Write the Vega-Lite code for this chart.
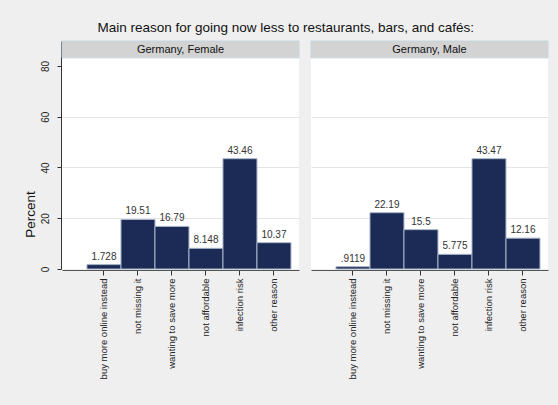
{
  "$schema": "https://vega.github.io/schema/vega-lite/v6.json",
  "background": "#efefef",
  "padding": {"left": 22, "top": 21, "right": 14, "bottom": 26},
  "title": {
    "text": "Main reason for going now less to restaurants, bars, and cafés:",
    "fontSize": 13.5,
    "font": "Liberation Sans",
    "fontWeight": "normal",
    "color": "#111111",
    "anchor": "middle",
    "offset": 6
  },
  "data": {
    "values": [
      {"panel": "Germany, Female", "reason": "buy more online instead", "percent": 1.728},
      {"panel": "Germany, Female", "reason": "not missing it", "percent": 19.51},
      {"panel": "Germany, Female", "reason": "wanting to save more", "percent": 16.79},
      {"panel": "Germany, Female", "reason": "not affordable", "percent": 8.148},
      {"panel": "Germany, Female", "reason": "infection risk", "percent": 43.46},
      {"panel": "Germany, Female", "reason": "other reason", "percent": 10.37},
      {"panel": "Germany, Male", "reason": "buy more online instead", "percent": 0.9119},
      {"panel": "Germany, Male", "reason": "not missing it", "percent": 22.19},
      {"panel": "Germany, Male", "reason": "wanting to save more", "percent": 15.5},
      {"panel": "Germany, Male", "reason": "not affordable", "percent": 5.775},
      {"panel": "Germany, Male", "reason": "infection risk", "percent": 43.47},
      {"panel": "Germany, Male", "reason": "other reason", "percent": 12.16}
    ]
  },
  "facet": {
    "column": {"field": "panel", "type": "nominal", "header": null, "sort": ["Germany, Female", "Germany, Male"]}
  },
  "spacing": 10,
  "spec": {
    "width": 237,
    "height": 228,
    "view": {"fill": "white", "stroke": null},
    "encoding": {
      "x": {
        "field": "reason",
        "type": "nominal",
        "sort": ["buy more online instead", "not missing it", "wanting to save more", "not affordable", "infection risk", "other reason"],
        "scale": {"paddingInner": 0, "paddingOuter": 0.485, "align": 0.757},
        "axis": {
          "title": null,
          "labelAngle": -90,
          "labelFontSize": 9.5,
          "labelFont": "Liberation Sans",
          "labelColor": "#222222",
          "labelPadding": 3,
          "tickSize": 5,
          "tickColor": "#333333",
          "domainColor": "#555555",
          "grid": false
        }
      }
    },
    "layer": [
      {
        "mark": {"type": "bar", "fill": "#1c2b55", "stroke": "#a9b5ca", "strokeWidth": 1},
        "encoding": {
          "y": {
            "field": "percent",
            "type": "quantitative",
            "scale": {"domain": [0, 89.85], "nice": false, "zero": true},
            "axis": {
              "title": "Percent",
              "values": [0, 20, 40, 60, 80],
              "labelAngle": -90,
              "labelFontSize": 10,
              "labelFont": "Liberation Sans",
              "labelColor": "#222222",
              "labelPadding": 7,
              "tickSize": 4,
              "tickColor": "#333333",
              "domainColor": "#333333",
              "titleFont": "Liberation Sans",
              "titleFontSize": 13.5,
              "titleFontWeight": "normal",
              "titleColor": "#111111",
              "titlePadding": 3,
              "titleY": 173,
              "grid": true,
              "gridColor": {
                "condition": {"test": "datum.value == 20 || datum.value == 40 || datum.value == 60", "value": "#e4e4e4"},
                "value": "transparent"
              },
              "gridWidth": 1.2
            }
          }
        }
      },
      {
        "transform": [
          {"calculate": "datum.percent < 1 ? substring(format(datum.percent, '.4~r'), 1) : format(datum.percent, '.4~r')", "as": "label"}
        ],
        "mark": {"type": "text", "baseline": "bottom", "dy": -3, "fontSize": 10, "font": "Liberation Sans", "color": "#333333"},
        "encoding": {
          "y": {"field": "percent", "type": "quantitative"},
          "text": {"field": "label", "type": "nominal"}
        }
      },
      {
        "transform": [{"aggregate": [{"op": "count", "as": "n"}], "groupby": ["panel"]}],
        "mark": {"type": "rect", "fill": "#d3d3d3", "stroke": "#c4d6de", "strokeWidth": 1},
        "encoding": {
          "x": null,
          "y": {"datum": 83.2, "type": "quantitative"},
          "y2": {"datum": 89.85}
        }
      },
      {
        "transform": [{"aggregate": [{"op": "count", "as": "n"}], "groupby": ["panel"]}],
        "mark": {"type": "text", "fontSize": 11, "font": "Liberation Sans", "color": "#111111", "baseline": "middle"},
        "encoding": {
          "x": null,
          "y": {"datum": 86.5, "type": "quantitative"},
          "text": {"field": "panel", "type": "nominal"}
        }
      }
    ]
  }
}
